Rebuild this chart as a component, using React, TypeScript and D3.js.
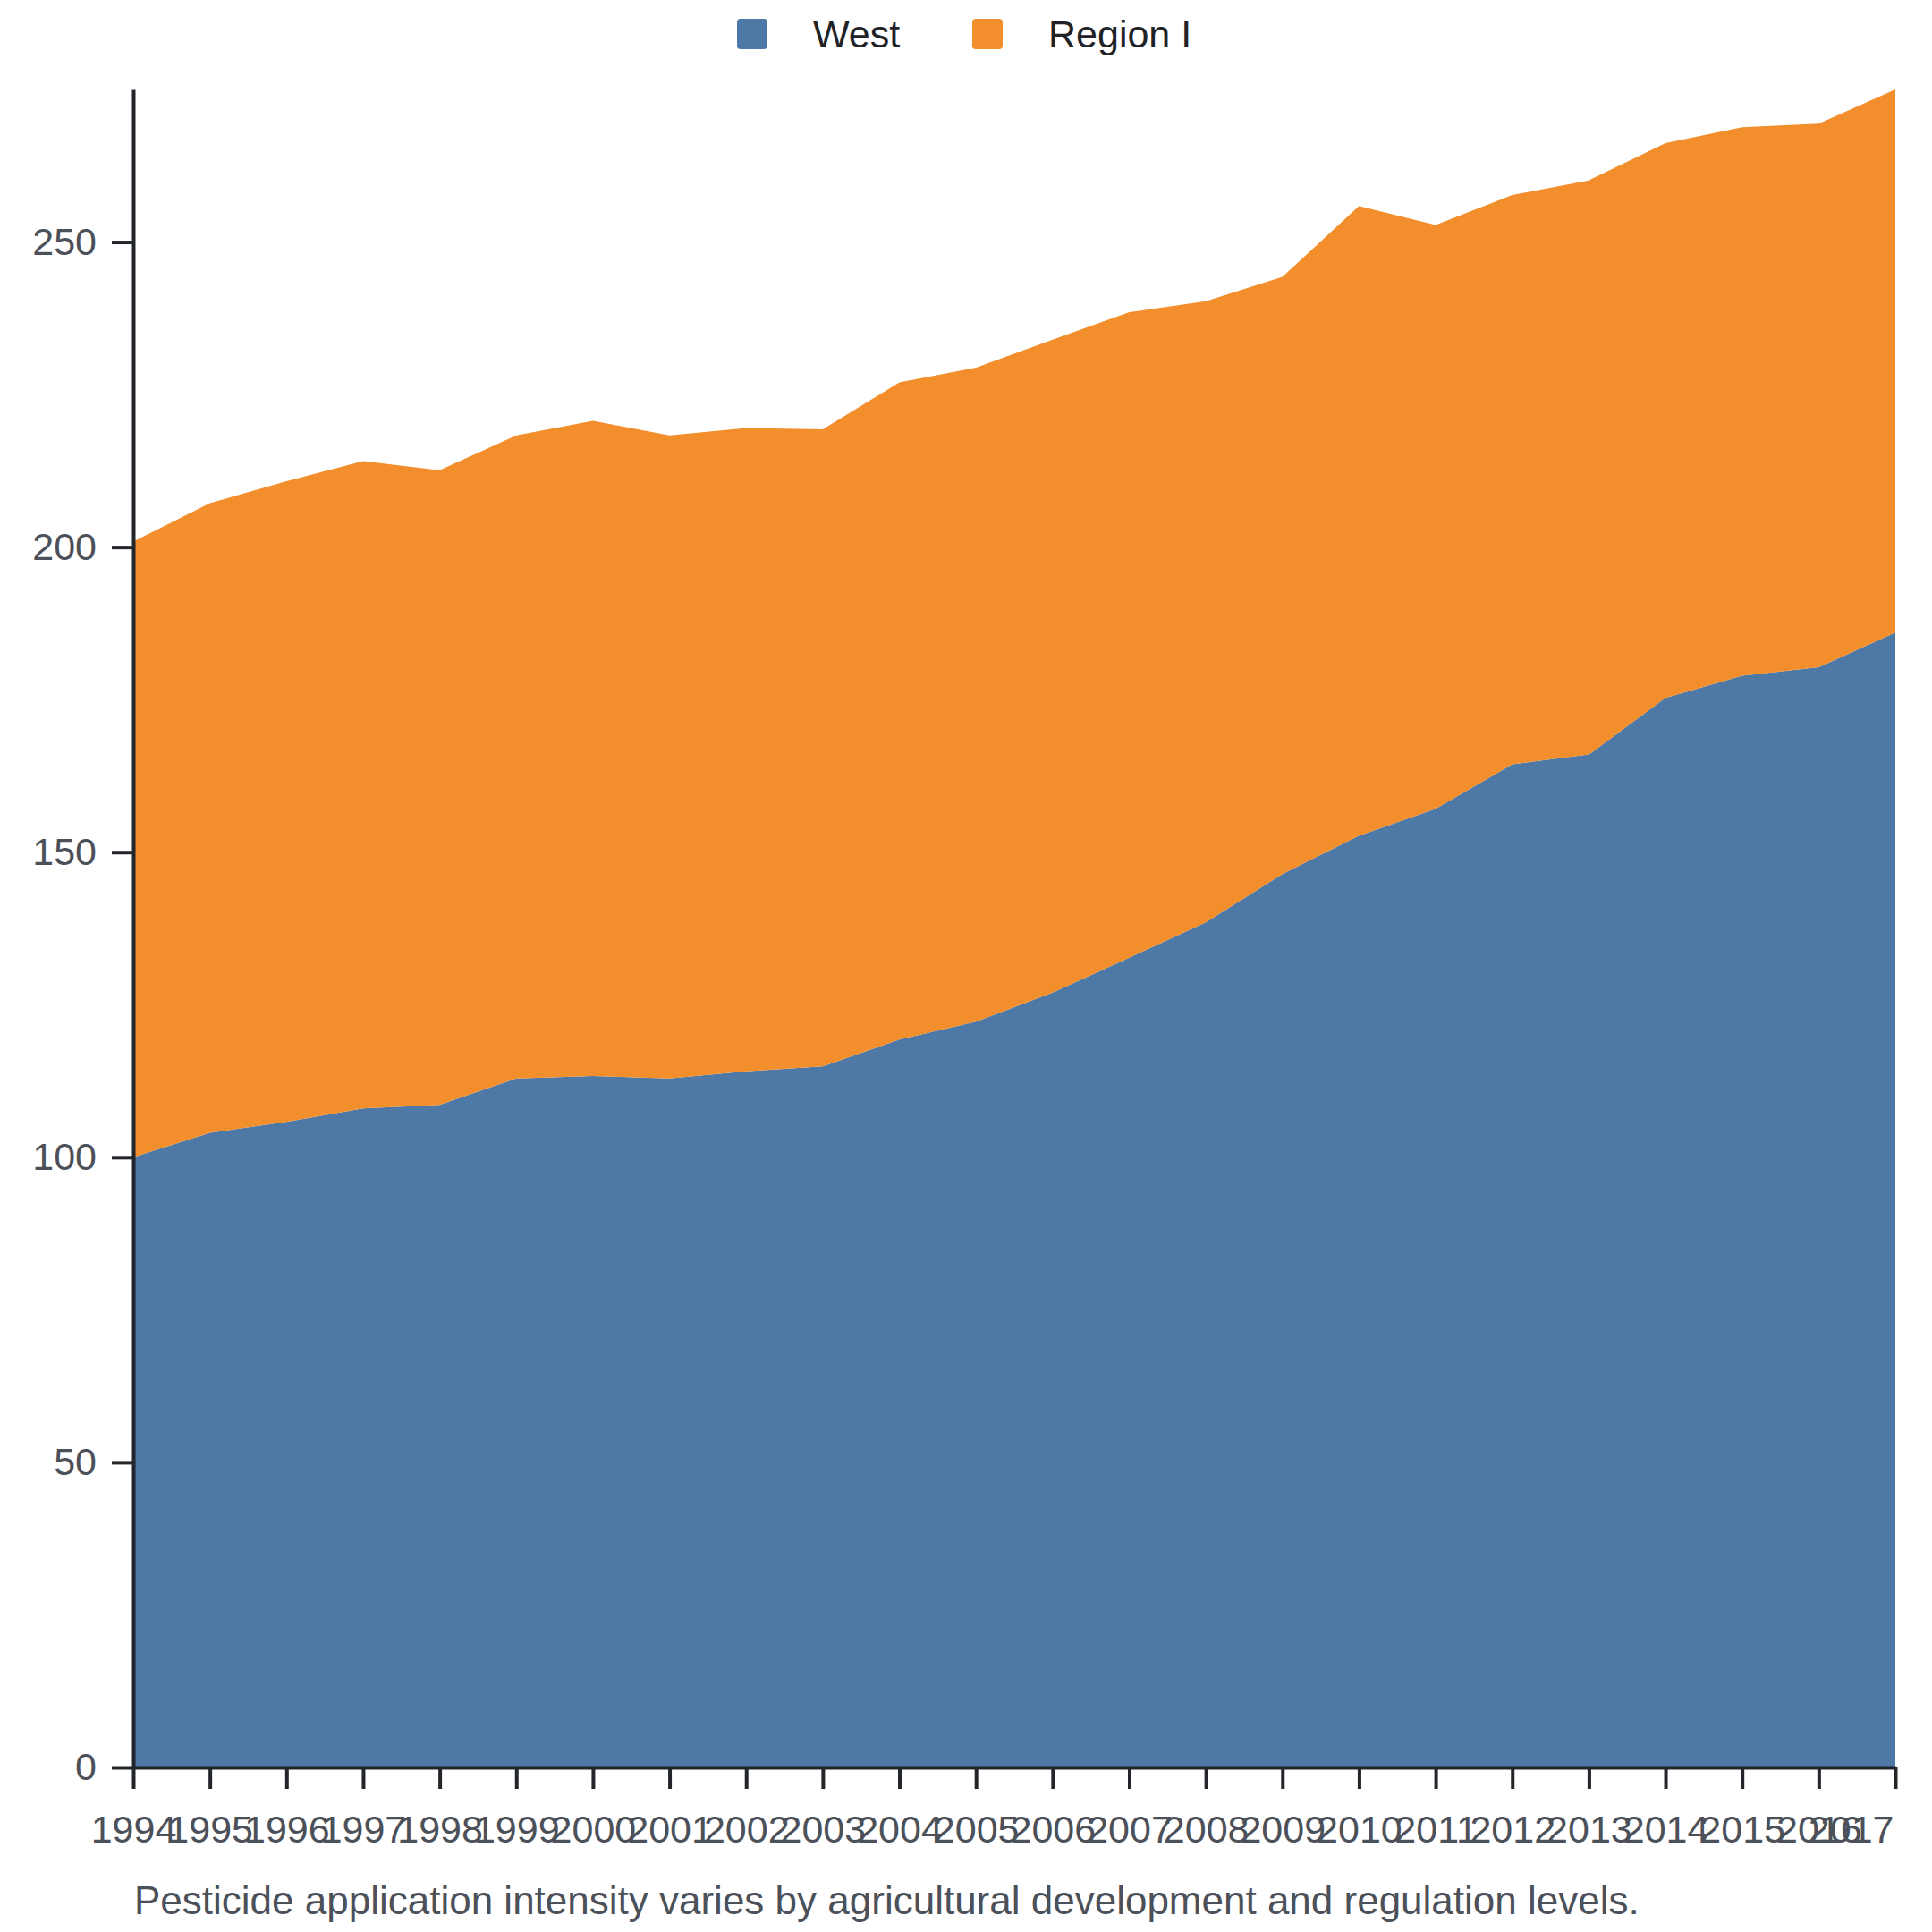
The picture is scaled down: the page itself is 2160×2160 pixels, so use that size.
import { useEffect, useRef } from 'react';
import * as d3 from 'd3';

const years = [
  1994, 1995, 1996, 1997, 1998, 1999, 2000, 2001, 2002, 2003, 2004, 2005,
  2006, 2007, 2008, 2009, 2010, 2011, 2012, 2013, 2014, 2015, 2016, 2017,
];

const west = [
  100.0, 104.0, 105.8, 108.0, 108.6, 112.9, 113.3, 112.9, 114.1, 114.9, 119.3,
  122.2, 127.0, 132.7, 138.5, 146.4, 152.7, 157.1, 164.4, 166.0, 175.3, 178.9,
  180.3, 186.0,
];

const regionI = [
  100.9, 103.2, 105.0, 106.1, 104.0, 105.4, 107.4, 105.4, 105.4, 104.4, 107.7,
  107.2, 107.0, 105.8, 101.8, 97.9, 103.2, 95.7, 93.3, 94.1, 90.9, 89.9, 89.1,
  89.0,
];

const seriesNames = ['West', 'Region I'];
const seriesColors = ['#4e79a7', '#f28e2b'];
const yTicks = [0, 50, 100, 150, 200, 250];
const caption =
  'Pesticide application intensity varies by agricultural development and regulation levels.';

const W = 2160;
const H = 2160;
const FONT = '"Liberation Sans", Arial, sans-serif';

export default function App() {
  const svgRef = useRef<SVGSVGElement>(null);

  useEffect(() => {
    if (!svgRef.current) return;
    const margin = { top: 100, right: 41, bottom: 184, left: 149 };
    const innerWidth = W - margin.left - margin.right;
    const innerHeight = H - margin.top - margin.bottom;

    const svg = d3.select(svgRef.current);
    svg.selectAll('*').remove();

    const rows = years.map((y, i) => ({ year: y, West: west[i], 'Region I': regionI[i] }));
    const stacked = d3.stack<any>().keys(seriesNames)(rows);
    const maxTotal = d3.max(rows, (d) => d.West + d['Region I']) as number;

    const x = d3.scaleLinear().domain([years[0], years[years.length - 1]]).range([0, innerWidth]);
    const y = d3.scaleLinear().domain([0, maxTotal]).range([innerHeight, 0]);

    const g = svg.append('g').attr('transform', `translate(${margin.left},${margin.top})`);

    const area = d3
      .area<any>()
      .x((d) => x(d.data.year))
      .y0((d) => y(d[0]))
      .y1((d) => y(d[1]));

    g.selectAll('path.layer')
      .data(stacked)
      .join('path')
      .attr('class', 'layer')
      .attr('fill', (_, i) => seriesColors[i])
      .attr('d', area);

    // X axis
    const xAxis = g
      .append('g')
      .attr('transform', `translate(0,${innerHeight})`)
      .call(
        d3
          .axisBottom(x)
          .tickValues(years)
          .tickFormat((d) => `${d}`)
          .tickSize(24)
          .tickSizeOuter(0)
          .tickPadding(29)
      );
    xAxis.select('.domain').attr('stroke', '#22252a').attr('stroke-width', 4);
    xAxis.selectAll('.tick line').attr('stroke', '#22252a').attr('stroke-width', 4);
    xAxis
      .selectAll('.tick text')
      .attr('fill', '#4b5059')
      .style('font-size', '43px')
      .style('font-family', FONT);
    // last label kept inside the chart
    xAxis
      .selectAll<SVGTextElement, number>('.tick text')
      .filter((d) => d === years[years.length - 1])
      .attr('text-anchor', 'end')
      .attr('dx', -2);

    // Y axis
    const yAxis = g
      .append('g')
      .call(d3.axisLeft(y).tickValues(yTicks).tickSize(24).tickSizeOuter(0).tickPadding(17));
    yAxis.select('.domain').attr('stroke', '#22252a').attr('stroke-width', 4);
    yAxis.selectAll('.tick line').attr('stroke', '#22252a').attr('stroke-width', 4);
    yAxis
      .selectAll('.tick text')
      .attr('fill', '#4b5059')
      .style('font-size', '43px')
      .style('font-family', FONT);

    // Legend
    const legendX = [824, 1087];
    const legend = svg.append('g');
    seriesNames.forEach((name, i) => {
      legend
        .append('rect')
        .attr('x', legendX[i])
        .attr('y', 21)
        .attr('width', 34)
        .attr('height', 34)
        .attr('rx', 4)
        .attr('fill', seriesColors[i]);
      legend
        .append('text')
        .attr('x', legendX[i] + 85)
        .attr('y', 53)
        .attr('fill', '#1f2226')
        .style('font-size', '43px')
        .style('font-family', FONT)
        .text(name);
    });

    // Caption
    svg
      .append('text')
      .attr('x', 150)
      .attr('y', 2140)
      .attr('fill', '#4b5059')
      .style('font-size', '44px')
      .style('font-family', FONT)
      .text(caption);
  }, []);

  return (
    <svg
      ref={svgRef}
      width={W}
      height={H}
      style={{ position: 'absolute', left: 0, top: 0, background: '#fff' }}
    />
  );
}
